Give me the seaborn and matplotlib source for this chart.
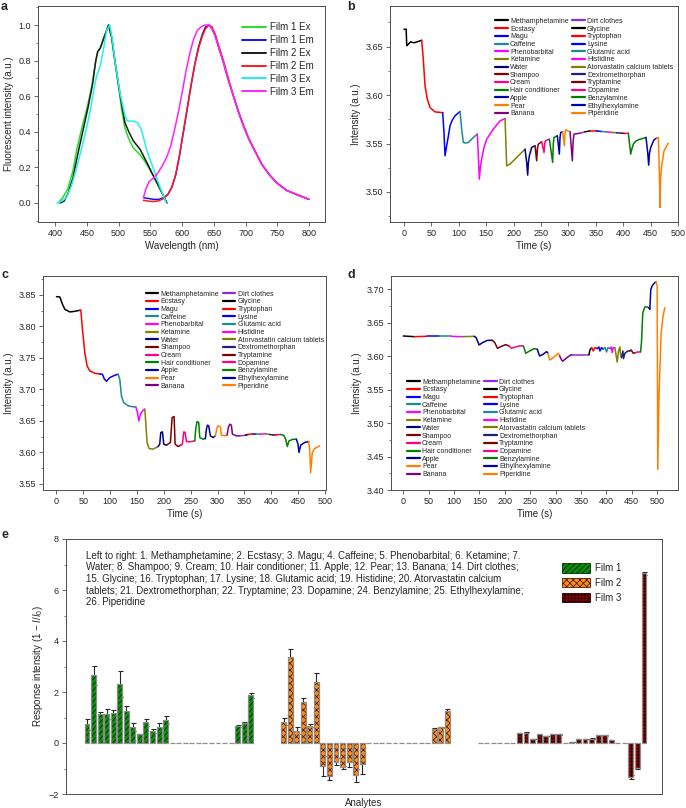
import numpy as np
import pandas as pd
import matplotlib
matplotlib.use('Agg')
import matplotlib.pyplot as plt
import seaborn as sns
from matplotlib.lines import Line2D
from matplotlib.patches import Patch
from matplotlib.ticker import MultipleLocator, FormatStrFormatter

# ---------------- panel a: normalised spectra ----------------
spec_names = ['Film 1 Ex', 'Film 1 Em', 'Film 2 Ex', 'Film 2 Em', 'Film 3 Ex', 'Film 3 Em']
spec_colors = ['#22e022', '#1010ff', '#1a1a1a', '#ff1a1a', '#22f0f0', '#ff22ff']

f1_ex_wl = [405, 412, 420, 428, 434, 442, 450, 458, 463, 467, 471, 476, 484, 489, 494, 500, 505, 510, 516, 523, 534, 544, 555, 565, 576]
f1_ex = [0.0, 0.03, 0.08, 0.18, 0.30, 0.42, 0.53, 0.66, 0.78, 0.85, 0.87, 0.92, 1.0, 0.93, 0.80, 0.65, 0.52, 0.42, 0.36, 0.31, 0.27, 0.22, 0.15, 0.08, 0.0]
f2_ex_wl = [408, 414, 420, 428, 436, 444, 452, 459, 464, 467, 471, 476, 484, 489, 494, 500, 505, 510, 516, 523, 534, 544, 555, 565, 576]
f2_ex = [0.0, 0.01, 0.05, 0.14, 0.28, 0.41, 0.54, 0.67, 0.80, 0.85, 0.87, 0.92, 1.0, 0.93, 0.80, 0.66, 0.55, 0.45, 0.40, 0.35, 0.30, 0.23, 0.15, 0.08, 0.0]
f3_ex_wl = [403, 410, 418, 426, 434, 442, 450, 456, 460, 465, 471, 476, 481, 486, 490, 494, 502, 510, 514, 518, 524, 530, 536, 544, 555, 565, 575]
f3_ex = [0.0, 0.01, 0.03, 0.10, 0.20, 0.31, 0.43, 0.53, 0.62, 0.71, 0.77, 0.86, 0.97, 1.0, 0.92, 0.80, 0.62, 0.49, 0.46, 0.46, 0.46, 0.45, 0.41, 0.30, 0.19, 0.09, 0.0]

em_wl = [539, 547, 555, 563, 571, 578, 584, 590, 596, 602, 608, 614, 620, 626, 632, 637, 642, 647, 652, 658, 665, 672, 680, 688, 696, 705, 715, 725, 737, 750, 765, 782, 800]
f1_em = [0.03, 0.025, 0.02, 0.02, 0.03, 0.05, 0.09, 0.16, 0.27, 0.40, 0.53, 0.66, 0.78, 0.88, 0.95, 0.99, 1.0, 0.98, 0.94, 0.87, 0.79, 0.70, 0.61, 0.52, 0.44, 0.36, 0.29, 0.22, 0.16, 0.11, 0.07, 0.045, 0.02]
f2_em = [0.015, 0.01, 0.008, 0.012, 0.025, 0.05, 0.09, 0.16, 0.27, 0.40, 0.53, 0.66, 0.78, 0.87, 0.94, 0.98, 1.0, 0.99, 0.95, 0.88, 0.80, 0.71, 0.61, 0.52, 0.44, 0.36, 0.29, 0.22, 0.16, 0.11, 0.07, 0.045, 0.02]
f3_em_wl = [539, 543, 548, 555, 562, 569, 576, 582, 588, 594, 600, 606, 612, 618, 624, 630, 636, 642, 647, 652, 658, 665, 672, 680, 688, 696, 705, 715, 725, 737, 750, 765, 782, 800]
f3_em = [0.03, 0.08, 0.12, 0.14, 0.17, 0.21, 0.26, 0.32, 0.41, 0.51, 0.62, 0.74, 0.84, 0.92, 0.97, 0.99, 1.0, 1.0, 0.98, 0.94, 0.87, 0.79, 0.70, 0.61, 0.52, 0.44, 0.36, 0.29, 0.22, 0.16, 0.11, 0.07, 0.045, 0.02]

# ---------------- panels b-d: time traces ----------------
analytes = ['Methamphetamine', 'Ecstasy', 'Magu', 'Caffeine', 'Phenobarbital', 'Ketamine', 'Water',
            'Shampoo', 'Cream', 'Hair conditioner', 'Apple', 'Pear', 'Banana', 'Dirt clothes', 'Glycine',
            'Tryptophan', 'Lysine', 'Glutamic acid', 'Histidine', 'Atorvastatin calcium tablets',
            'Dextromethorphan', 'Tryptamine', 'Dopamine', 'Benzylamine', 'Ethylhexylamine', 'Piperidine']
seg_colors = ['#000000', '#ff0000', '#0000ff', '#1a8c8c', '#ff00ff', '#808000', '#000080', '#800000',
              '#ff0080', '#008000', '#0000a0', '#ff8000', '#800080', '#8a2be2', '#000000', '#ff0000',
              '#0000ff', '#1a8c8c', '#ff00ff', '#808000', '#202080', '#800000', '#ff0080', '#008000',
              '#0000b0', '#ff8000']

b_t = [[0, 4, 5, 7, 12, 18, 24, 32.3],
       [32.3, 35.3, 38.4, 42.6, 47.5, 56.6, 68.8, 70.6],
       [70.6, 73.0, 74.9, 77.9, 80.5, 84.0, 88.0, 93.1, 102.2],
       [102.2, 105.3, 108.3, 112.0, 117.4, 126.6, 133.9],
       [133.9, 135.7, 137.5, 139.5, 141.8, 146.0, 150.9, 163.1, 175.2, 184.4],
       [184.4, 187.4, 193.5, 205.6, 217.8, 220.9],
       [220.9, 223.9, 225.7, 227.0, 228.8, 233.0, 239.1],
       [239.1, 242.1, 243.5, 245.2, 251.3],
       [251.3, 255.5, 256.8, 258.0, 265.3],
       [265.3, 271.3, 272.5, 273.8, 279.8],
       [279.8, 283.5, 284.7, 285.9, 289.6],
       [289.6, 292.6, 293.8, 295.1, 303.0],
       [303.0, 307.2, 308.7, 310.3, 321.2],
       [321.2, 330.3],
       [330.3, 339.5],
       [339.5, 351.6],
       [351.6, 360.8],
       [360.8, 369.9],
       [369.9, 380.8],
       [380.8, 388.1],
       [388.1, 397.2],
       [397.2, 403.3],
       [403.3, 409.4],
       [409.4, 413.7, 416.0, 418.5, 422.0, 427.7, 441.6],
       [441.6, 444.7, 446.5, 448.0, 450.2, 456.2, 461.1],
       [461.1, 464.2, 466.0, 467.2, 468.5, 470.2, 474.5, 482.4]]
b_y = [[3.668, 3.668, 3.651, 3.652, 3.655, 3.654, 3.655, 3.6566],
       [3.6566, 3.637, 3.6095, 3.5958, 3.5872, 3.5827, 3.582, 3.582],
       [3.582, 3.5614, 3.5374, 3.5477, 3.556, 3.5683, 3.574, 3.5786, 3.5831],
       [3.5831, 3.5649, 3.5511, 3.5505, 3.5511, 3.5563, 3.5597],
       [3.5597, 3.5374, 3.5133, 3.526, 3.5339, 3.546, 3.5545, 3.5649, 3.5734, 3.5758],
       [3.5758, 3.527, 3.5288, 3.5356, 3.5425, 3.5442],
       [3.5442, 3.5305, 3.5174, 3.530, 3.5374, 3.546, 3.5477],
       [3.5477, 3.5322, 3.545, 3.5494, 3.5518],
       [3.5518, 3.5408, 3.550, 3.5528, 3.5545],
       [3.5545, 3.5305, 3.550, 3.5563, 3.558],
       [3.558, 3.5391, 3.556, 3.5614, 3.5621],
       [3.5621, 3.5477, 3.560, 3.5642, 3.5621],
       [3.5621, 3.5322, 3.553, 3.5597, 3.5607],
       [3.5607, 3.5621],
       [3.5621, 3.5631],
       [3.5631, 3.5631],
       [3.5631, 3.5624],
       [3.5624, 3.5621],
       [3.5621, 3.5614],
       [3.5614, 3.5611],
       [3.5611, 3.5607],
       [3.5607, 3.5604],
       [3.5604, 3.5607],
       [3.5607, 3.5391, 3.545, 3.5494, 3.552, 3.5539, 3.5563],
       [3.5563, 3.5408, 3.5277, 3.540, 3.546, 3.5539, 3.5556],
       [3.5556, 3.5563, 3.5202, 3.4841, 3.515, 3.527, 3.5425, 3.5504]]

c_t = [[0.1, 6.3, 11.3, 15.6, 25.0, 34.2, 43.5],
       [43.5, 45.4, 48.5, 52.8, 57.2, 62.1, 71.5, 80.8],
       [80.8, 85.7, 89.4, 93.2, 99.4, 108.7, 114.9],
       [114.9, 118.0, 121.1, 125.4, 133.5, 142.8, 147.8],
       [147.8, 150.9, 153.3, 156.4, 161.4, 164.5],
       [164.5, 166.4, 168.8, 172.6, 180.0, 189.3],
       [189.3, 192.4, 194.3, 197.4, 199.9, 204.8],
       [204.8, 212.3, 215.4, 219.1, 221.0, 226.5, 231.5],
       [231.5, 234.6, 237.1, 239.6, 242.1, 248.3, 257.6],
       [257.6, 259.4, 261.9, 265.0, 266.9, 273.1, 277.4],
       [277.4, 279.3, 281.1, 283.6, 286.7, 291.7, 296.0],
       [296.0, 299.1, 301.0, 305.3, 307.2, 313.4, 317.7],
       [317.7, 320.2, 322.7, 325.8, 327.7, 335.1, 341.3],
       [341.3, 352.5],
       [352.5, 356.8],
       [356.8, 366.1],
       [366.1, 372.3],
       [372.3, 378.5],
       [378.5, 389.7],
       [389.7, 397.1],
       [397.1, 403.3],
       [403.3, 409.5],
       [409.5, 417.0],
       [417.0, 423.2, 426.9, 430.0, 433.1, 440.6, 446.8],
       [446.8, 449.9, 451.7, 454.8, 462.3, 469.7],
       [469.7, 471.6, 473.4, 476.5, 480.9, 490.2]]
c_y = [[3.8472, 3.8467, 3.835, 3.8271, 3.8229, 3.8239, 3.8255],
       [3.8255, 3.826, 3.7953, 3.7583, 3.7371, 3.7292, 3.7255, 3.7244],
       [3.7244, 3.7239, 3.716, 3.7128, 3.7186, 3.7223, 3.7239],
       [3.7239, 3.716, 3.6895, 3.6789, 3.6737, 3.6721, 3.6721],
       [3.6721, 3.6631, 3.6498, 3.6604, 3.6668, 3.6684],
       [3.6684, 3.6472, 3.6155, 3.6059, 3.6049, 3.6091],
       [3.6091, 3.6128, 3.6313, 3.6324, 3.6128, 3.6112],
       [3.6112, 3.6155, 3.6551, 3.6567, 3.6128, 3.6091, 3.6112],
       [3.6112, 3.6128, 3.6324, 3.6313, 3.617, 3.6165, 3.6181],
       [3.6181, 3.6366, 3.6488, 3.6472, 3.6234, 3.6207, 3.6218],
       [3.6218, 3.6366, 3.643, 3.6419, 3.626, 3.6234, 3.626],
       [3.626, 3.6392, 3.6419, 3.6403, 3.6271, 3.626, 3.6271],
       [3.6271, 3.6392, 3.6446, 3.643, 3.6287, 3.626, 3.626],
       [3.626, 3.6271],
       [3.6271, 3.6282],
       [3.6282, 3.6292],
       [3.6292, 3.6292],
       [3.6292, 3.6287],
       [3.6287, 3.6292],
       [3.6292, 3.6282],
       [3.6282, 3.6276],
       [3.6276, 3.6276],
       [3.6276, 3.6282],
       [3.6282, 3.6271, 3.6207, 3.6091, 3.618, 3.6207, 3.6207],
       [3.6207, 3.6128, 3.5996, 3.6112, 3.6155, 3.617],
       [3.617, 3.6049, 3.5678, 3.5996, 3.6059, 3.6101]]

d_t = [[0.2, 21.8],
       [21.8, 46.1],
       [46.1, 71.0],
       [71.0, 93.9],
       [93.9, 116.8],
       [116.8, 139.7],
       [139.7, 143.6, 149.5, 156.1, 165.9, 175.7],
       [175.7, 180.3, 185.6, 192.1, 201.9, 208.5],
       [208.5, 213.1, 221.6, 228.1, 236.6],
       [236.6, 239.3, 241.2, 247.8, 257.6, 264.1],
       [264.1, 266.1, 268.7, 275.3, 282.5, 285.1],
       [285.1, 287.1, 289.0, 296.9, 305.4, 308.0],
       [308.0, 311.3, 313.9, 319.8, 329.6, 332.9],
       [332.9, 365.7],
       [365.7, 367.6, 370.9],
       [370.9, 374.2, 377.4, 382.0],
       [382.0, 385.3, 387.3, 390.5, 393.8],
       [393.8, 397.1, 400.4, 403.0, 406.9],
       [406.9, 409.5, 411.5, 413.5, 416.7],
       [416.7, 419.3, 421.3, 423.9, 426.6, 427.9, 429.8],
       [429.8, 432.4, 433.8, 436.4, 442.3, 446.2],
       [446.2, 448.8, 452.8, 457.3],
       [457.3, 461.9, 467.2],
       [467.2, 469.1, 471.7, 475.7, 480.3, 483.5],
       [483.5, 485.5, 487.5, 490.7, 495.3, 497.9],
       [497.9, 499.9, 500.6, 501.2, 503.8, 507.8, 511.7, 515.0]]
d_y = [[3.6303, 3.6293],
       [3.6293, 3.6298],
       [3.6298, 3.6298],
       [3.6298, 3.6298],
       [3.6298, 3.6293],
       [3.6293, 3.6298],
       [3.6298, 3.6278, 3.6169, 3.6203, 3.6238, 3.6238],
       [3.6238, 3.6203, 3.6119, 3.6144, 3.6174, 3.6154],
       [3.6154, 3.6119, 3.6139, 3.6154, 3.6154],
       [3.6154, 3.6094, 3.6044, 3.6074, 3.6114, 3.6104],
       [3.6104, 3.6054, 3.6004, 3.6029, 3.6069, 3.6044],
       [3.6044, 3.5979, 3.5944, 3.5989, 3.6044, 3.6004],
       [3.6004, 3.5954, 3.5924, 3.5964, 3.6019, 3.6024],
       [3.6024, 3.6024],
       [3.6024, 3.6094, 3.6129],
       [3.6129, 3.6079, 3.6129, 3.6114],
       [3.6114, 3.6139, 3.6079, 3.6129, 3.6104],
       [3.6104, 3.6134, 3.6064, 3.6129, 3.6114],
       [3.6114, 3.6139, 3.6054, 3.6129, 3.6129],
       [3.6129, 3.6004, 3.5914, 3.6079, 3.6139, 3.6029, 3.5979],
       [3.5979, 3.6079, 3.5964, 3.6044, 3.6079, 3.6079],
       [3.6079, 3.6094, 3.6044, 3.6054],
       [3.6054, 3.6064, 3.6064],
       [3.6064, 3.6203, 3.6652, 3.6737, 3.6737, 3.6727],
       [3.6727, 3.6702, 3.7001, 3.706, 3.71, 3.711],
       [3.711, 3.7051, 3.5705, 3.431, 3.5456, 3.6353, 3.6602, 3.6727]]

# ---------------- panel e: response bars ----------------
film1 = [0.74, 2.65, 1.12, 1.13, 1.19, 2.32, 1.25, 0.62, 0.35, 0.82, 0.47, 0.61, 0.90,
         0, 0, 0, 0, 0, 0, 0, 0, 0, 0, 0.66, 0.79, 1.87]
film1_err = [0.22, 0.38, 0.10, 0.19, 0.12, 0.51, 0.20, 0.15, 0.02, 0.14, 0.08, 0.17, 0.15,
             0, 0, 0, 0, 0, 0, 0, 0, 0, 0, 0.04, 0.05, 0.09]
film2 = [0.83, 3.39, 0.48, 1.61, 0.68, 2.40, -0.90, -1.29, -0.73, -0.95, -0.73, -1.26, -0.84,
         0, 0, 0, 0, 0, 0, 0, 0, 0, 0, 0.56, 0.61, 1.27]
film2_err = [0.14, 0.30, 0.13, 0.17, 0.05, 0.35, 0.39, 0.18, 0.13, 0.06, 0.23, 0.26, 0.39,
             0, 0, 0, 0, 0, 0, 0, 0, 0, 0, 0.02, 0.03, 0.05]
film3 = [0, 0, 0, 0, 0, 0, 0.38, 0.41, 0.16, 0.34, 0.27, 0.35, 0.34,
         0, 0.03, 0.16, 0.16, 0.17, 0.31, 0.30, 0.12, 0, 0, -1.32, -0.97, 6.65]
film3_err = [0, 0, 0, 0, 0, 0, 0.02, 0.02, 0.01, 0.02, 0.01, 0.02, 0.02,
             0, 0.01, 0.01, 0.01, 0.01, 0.02, 0.02, 0.01, 0, 0, 0.08, 0.03, 0.05]
film_names = ['Film 1', 'Film 2', 'Film 3']
film_fill = ['#0d8a0d', '#ff8c1a', '#990000']
film_hatch_col = ['#003000', '#4a2000', '#1a0000']
film_hatch = ['//////', 'xxxxx', '+++++']

e_note = ("Left to right: 1. Methamphetamine; 2. Ecstasy; 3. Magu; 4. Caffeine; 5. Phenobarbital; 6. Ketamine; 7.\n"
          "Water; 8. Shampoo; 9. Cream; 10. Hair conditioner; 11. Apple; 12. Pear; 13. Banana; 14. Dirt clothes;\n"
          "15. Glycine; 16. Tryptophan; 17. Lysine; 18. Glutamic acid; 19. Histidine; 20. Atorvastatin calcium\n"
          "tablets; 21. Dextromethorphan; 22. Tryptamine; 23. Dopamine; 24. Benzylamine; 25. Ethylhexylamine;\n"
          "26. Piperidine")

sns.set_style('ticks')
plt.rcParams['font.family'] = ['Liberation Sans', 'DejaVu Sans']
plt.rcParams['mathtext.fontset'] = 'custom'
plt.rcParams['mathtext.rm'] = 'Liberation Sans'
plt.rcParams['mathtext.it'] = 'Liberation Sans:italic'
plt.rcParams['hatch.linewidth'] = 0.6
plt.rcParams['axes.linewidth'] = 0.7
plt.rcParams['axes.edgecolor'] = '0.3'

fig = plt.figure(figsize=(6.86, 8.08), dpi=100)


def px_axes(l, t, r, b):
    return fig.add_axes([l / 686, 1 - b / 808, (r - l) / 686, (b - t) / 808])


def style_ax(ax):
    ax.tick_params(which='major', labelsize=6.5, length=3, width=0.6, pad=2, color='0.3')
    ax.tick_params(which='minor', length=1.6, width=0.5, color='0.3')


def traces_df(t_lists, y_lists):
    rows = []
    for name, ts, ys in zip(analytes, t_lists, y_lists):
        for t, y in zip(ts, ys):
            rows.append((name, t, y))
    return pd.DataFrame(rows, columns=['analyte', 't', 'y'])


seg_pal = dict(zip(analytes, seg_colors))
seg_handles = [Line2D([], [], color=c, lw=1.6) for c in seg_colors]

# ---- a ----
ax = px_axes(38, 6, 325, 222)
rows = []
for name, wl, vals in zip(spec_names,
                          [f1_ex_wl, em_wl, f2_ex_wl, em_wl, f3_ex_wl, f3_em_wl],
                          [f1_ex, f1_em, f2_ex, f2_em, f3_ex, f3_em]):
    rows += [(name, w, v) for w, v in zip(wl, vals)]
spec_df = pd.DataFrame(rows, columns=['curve', 'wl', 'val'])
sns.lineplot(data=spec_df, x='wl', y='val', hue='curve', hue_order=spec_names,
             palette=dict(zip(spec_names, spec_colors)), sort=False, estimator=None,
             linewidth=1.1, legend=False, ax=ax)
ax.set_xlim(373, 825)
ax.set_ylim(-0.107, 1.107)
ax.set_xticks(range(400, 801, 50))
ax.yaxis.set_major_locator(MultipleLocator(0.2))
ax.yaxis.set_minor_locator(MultipleLocator(0.1))
ax.yaxis.set_major_formatter(FormatStrFormatter('%.1f'))
ax.set_xlabel('Wavelength (nm)', fontsize=7, labelpad=2)
ax.set_ylabel('Fluorescent intensity (a.u.)', fontsize=7, labelpad=3)
style_ax(ax)
ax.legend([Line2D([], [], color=c, lw=1.4) for c in spec_colors], spec_names, loc='upper left',
          bbox_to_anchor=(0.712, 0.925), frameon=False, fontsize=7, handlelength=2.4,
          handletextpad=0.4, labelspacing=0.3, borderpad=0, borderaxespad=0)

# ---- b, c, d ----
trace_specs = [
    ((390, 6, 678, 222), b_t, b_y, (-25.5, 500), (3.469, 3.692), (0.365, 0.945)),
    ((43, 276, 326, 490), c_t, c_y, (-25, 502), (3.54, 3.88), (0.363, 0.932)),
    ((391, 276, 678, 490), d_t, d_y, (-24, 541), (3.40, 3.72), (0.056, 0.52)),
]
for box, ts, ys, xl, yl, leg_xy in trace_specs:
    ax = px_axes(*box)
    sns.lineplot(data=traces_df(ts, ys), x='t', y='y', hue='analyte', hue_order=analytes,
                 palette=seg_pal, sort=False, estimator=None, linewidth=1.1, legend=False, ax=ax)
    ax.set_xlim(*xl)
    ax.set_ylim(*yl)
    ax.set_xticks(range(0, 501, 50))
    ax.yaxis.set_major_locator(MultipleLocator(0.05))
    ax.yaxis.set_minor_locator(MultipleLocator(0.025))
    ax.yaxis.set_major_formatter(FormatStrFormatter('%.2f'))
    ax.set_xlabel('Time (s)', fontsize=7, labelpad=2)
    ax.set_ylabel('Intensity (a.u.)', fontsize=7, labelpad=3)
    style_ax(ax)
    ax.legend(seg_handles, analytes, ncol=2, loc='upper left', bbox_to_anchor=leg_xy,
              frameon=False, fontsize=5, handlelength=1.8, handletextpad=0.35,
              columnspacing=0.5, labelspacing=0.1, borderpad=0, borderaxespad=0)

# ---- e ----
ax = px_axes(66, 539, 662, 794)
films = [(film1, film1_err), (film2, film2_err), (film3, film3_err)]
for k, (vals, errs) in enumerate(films):
    pos = np.arange(1, 27) + 30 * k
    sns.barplot(x=pos, y=vals, native_scale=True, color=film_fill[k], saturation=1,
                width=0.75, errorbar=None, edgecolor=film_hatch_col[k], linewidth=0,
                hatch=film_hatch[k], zorder=3, ax=ax)
    sns.barplot(x=pos, y=vals, native_scale=True, color='0.55', saturation=1, fill=False,
                width=0.75, errorbar=None, linewidth=0.9, zorder=4, ax=ax)
    vals = np.array(vals)
    errs = np.array(errs)
    m = errs > 0
    ax.errorbar(pos[m], vals[m], yerr=errs[m], fmt='none', ecolor='0.15', elinewidth=0.8,
                capsize=1.8, capthick=0.8, zorder=2)
ax.set_xlim(-2.2, 88.75)
ax.set_ylim(-2, 8)
ax.set_xticks([])
ax.yaxis.set_major_locator(MultipleLocator(2))
ax.yaxis.set_minor_locator(MultipleLocator(1))
style_ax(ax)
ax.set_xlabel('Analytes', fontsize=7, labelpad=3)
ax.set_ylabel(r'Response intensity (1 $-$ $I$/$I_0$)', fontsize=7, labelpad=3)
ax.text(0.034, 0.954, e_note, transform=ax.transAxes, fontsize=7, va='top', ha='left',
        linespacing=1.2)
ax.legend([Patch(facecolor=film_fill[k], edgecolor=film_hatch_col[k], hatch=film_hatch[k], lw=0.6)
           for k in range(3)], film_names, loc='upper left', bbox_to_anchor=(0.832, 0.905),
          frameon=False, fontsize=7, handlelength=2.9, handleheight=1.1, handletextpad=0.5,
          labelspacing=0.5, borderpad=0, borderaxespad=0)

# panel letters
for letter, x, y in [('a', 1, 10), ('b', 347, 10), ('c', 2, 278), ('d', 347, 278), ('e', 2, 538)]:
    fig.text(x / 686, 1 - y / 808, letter, fontsize=9, fontweight='bold', va='baseline')

fig.savefig('out.png', dpi=100)
